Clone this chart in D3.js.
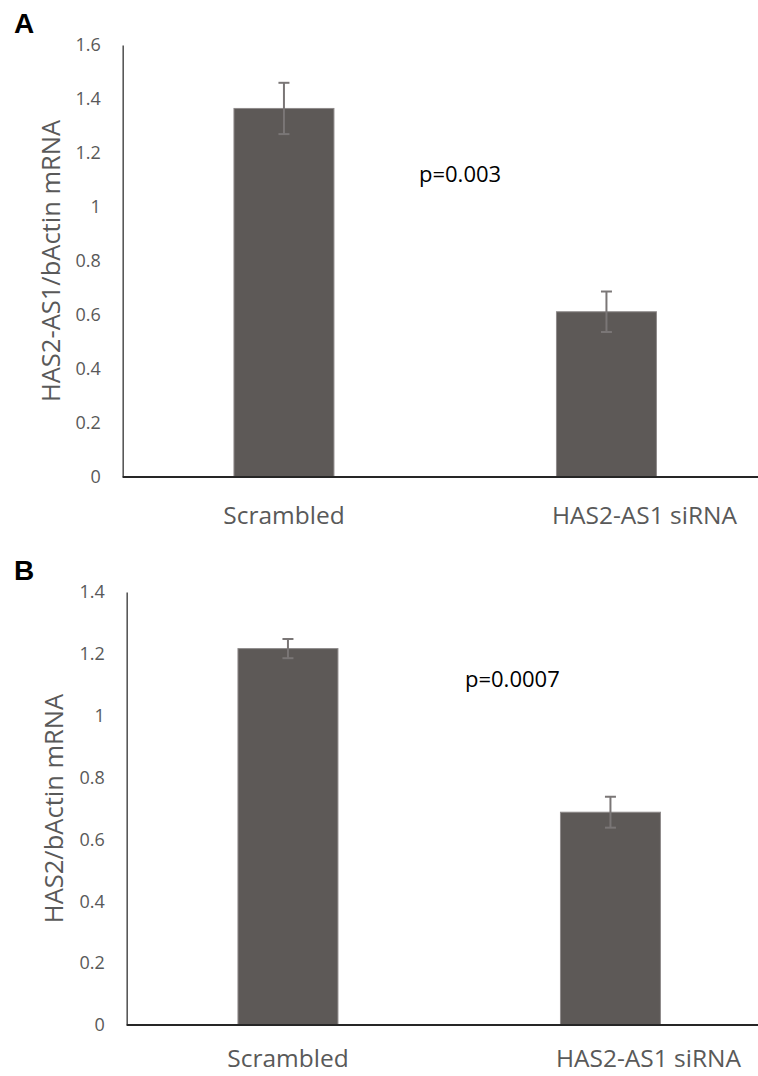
<!DOCTYPE html>
<meta charset="utf-8">
<style>* {padding:0; margin:0; border:0; outline:0;} body {background:#fff;}</style>
<body>
<script src="https://cdn.jsdelivr.net/npm/d3@7"></script>
<script>
// data
categories = ["Scrambled", "HAS2-AS1 siRNA"]

valuesA = [1.365, 0.612]
errorsA = [0.095, 0.075]
ticksA = [0, 0.2, 0.4, 0.6, 0.8, 1, 1.2, 1.4, 1.6]

valuesB = [1.217, 0.688]
errorsB = [0.031, 0.05]
ticksB = [0, 0.2, 0.4, 0.6, 0.8, 1, 1.2, 1.4]

width = 758
height = 1076

svg = d3.select('body').append('svg')
    .attr('width', width)
    .attr('height', height)
    .style('font-family', '"Open Sans", sans-serif')

function panel(o){
  var y = d3.scaleLinear().domain([0, o.max]).range([o.y0, o.y1])
  var x = d3.scalePoint().domain(categories).range([o.x0, o.x0 + 645]).padding(0.5)
  var bw = x.step() * 0.31

  var g = svg.append('g')

  // letter
  g.append('text')
    .attr('x', 14).attr('y', o.letterY)
    .style('font-family', '"Liberation Sans", Arial, sans-serif')
    .style('font-weight', 'bold')
    .style('font-size', '28px')
    .text(o.letter)

  // y axis (labels only, no ticks)
  var ax = g.append('g')
    .attr('transform', 'translate(' + o.x0 + ',0)')
    .call(d3.axisLeft(y).tickValues(o.ticks).tickSize(0).tickPadding(22).tickFormat(d3.format('')))
  ax.select('.domain').attr('stroke', '#595959').attr('stroke-width', 1.6)
  ax.selectAll('text').style('font-size', '18px').attr('fill', '#595959')
    .style('font-family', '"Open Sans", sans-serif')

  // bars
  g.selectAll('rect.bar')
    .data(o.values)
    .enter().append('rect')
      .attr('class', 'bar')
      .attr('x', function(d, i){ return x(categories[i]) - bw/2 })
      .attr('y', function(d){ return y(d) })
      .attr('width', bw)
      .attr('height', function(d){ return y(0) - y(d) })
      .style('fill', '#5d5957')
      .style('stroke', '#8e8a8a')
      .style('stroke-width', 1)

  // error bars
  var eb = g.selectAll('g.err')
    .data(o.values)
    .enter().append('g')
    .attr('stroke', '#7a7676').attr('stroke-width', 2)
  eb.append('line')
    .attr('x1', function(d, i){ return x(categories[i]) })
    .attr('x2', function(d, i){ return x(categories[i]) })
    .attr('y1', function(d, i){ return y(d + o.errors[i]) })
    .attr('y2', function(d, i){ return y(d - o.errors[i]) })
  ;[1, -1].forEach(function(s){
    eb.append('line')
      .attr('x1', function(d, i){ return x(categories[i]) - 5.5 })
      .attr('x2', function(d, i){ return x(categories[i]) + 5.5 })
      .attr('y1', function(d, i){ return y(d + s * o.errors[i]) })
      .attr('y2', function(d, i){ return y(d + s * o.errors[i]) })
  })

  // x axis line
  g.append('line')
    .attr('x1', o.x0).attr('x2', width)
    .attr('y1', y(0)).attr('y2', y(0))
    .attr('stroke', '#262626').attr('stroke-width', 2)

  // category labels
  g.selectAll('text.cat')
    .data(categories)
    .enter().append('text')
      .attr('class', 'cat')
      .attr('x', function(d, i){ return x(d) + (i == 1 ? 38 : 0) })
      .attr('y', o.catY)
      .attr('text-anchor', 'middle')
      .style('font-size', '24.5px')
      .attr('fill', '#595959')
      .text(function(d){ return d })

  // y title
  g.append('text')
    .attr('transform', 'translate(' + o.titleX + ',' + ((o.y0 + o.y1) / 2) + ') rotate(-90)')
    .attr('text-anchor', 'middle')
    .style('font-size', '25.5px')
    .attr('fill', '#595959')
    .text(o.title)

  // p value
  g.append('text')
    .attr('x', o.pX).attr('y', o.pY)
    .style('font-size', '22px')
    .attr('fill', '#000')
    .text(o.p)
}

panel({letter: 'A', letterY: 33, max: 1.6, ticks: ticksA, values: valuesA, errors: errorsA,
       x0: 122.7, y0: 477, y1: 45, catY: 524, titleX: 60, title: 'HAS2-AS1/bActin mRNA',
       p: 'p=0.003', pX: 419, pY: 182})

panel({letter: 'B', letterY: 580, max: 1.4, ticks: ticksB, values: valuesB, errors: errorsB,
       x0: 126.7, y0: 1025, y1: 592, catY: 1067, titleX: 63, title: 'HAS2/bActin mRNA',
       p: 'p=0.0007', pX: 465, pY: 687})
</script>
